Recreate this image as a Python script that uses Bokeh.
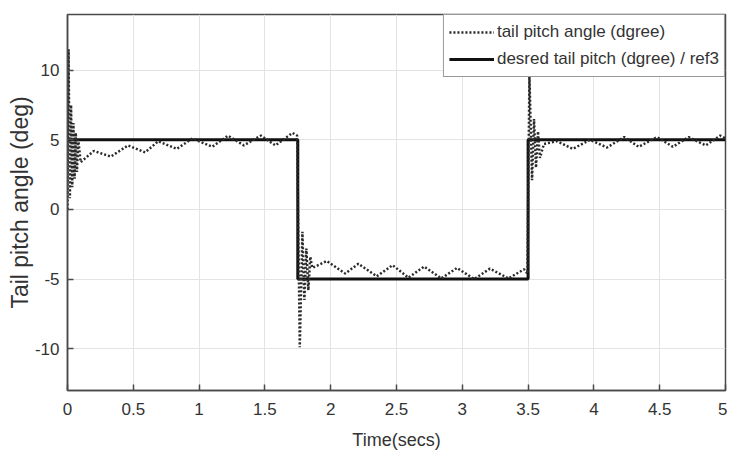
from bokeh.plotting import figure
from bokeh.models import Legend, LegendItem, FixedTicker, Range1d
from bokeh.embed import file_html
from bokeh.resources import INLINE

# --- data ---
ref_t = [0.0, 1.75, 1.75, 3.5, 3.5, 5.0]
ref_v = [5.0, 5.0, -5.0, -5.0, 5.0, 5.0]

meas_t = [0.0, 0.008, 0.018, 0.027, 0.036, 0.045, 0.054, 0.063, 0.072, 0.082, 0.1,
          0.2, 0.33, 0.46, 0.59, 0.69, 0.83, 0.95, 1.10, 1.22, 1.34, 1.47, 1.58, 1.71,
          1.745, 1.765, 1.785, 1.80, 1.815, 1.83, 1.845, 1.86, 1.97, 2.11, 2.21, 2.35,
          2.47, 2.59, 2.71, 2.84, 2.96, 3.09, 3.21, 3.35, 3.47, 3.495,
          3.51, 3.53, 3.545, 3.56, 3.575, 3.59, 3.62, 3.72, 3.84, 3.97, 4.10, 4.23,
          4.34, 4.48, 4.60, 4.72, 4.85, 4.96, 5.0]
meas_v = [0.0, 11.5, 0.8, 7.5, 1.6, 6.2, 2.2, 5.5, 2.7, 5.0, 3.4,
          4.2, 3.8, 4.6, 4.1, 4.9, 4.35, 5.1, 4.5, 5.3, 4.6, 5.3, 4.6, 5.5,
          5.3, -9.9, -1.6, -6.5, -2.8, -5.8, -3.4, -4.2, -3.7, -4.6, -3.9, -4.8,
          -4.0, -4.9, -4.1, -4.95, -4.2, -5.0, -4.25, -4.95, -4.3, -4.6,
          9.6, 2.1, 6.5, 3.0, 5.6, 3.7, 4.7, 4.9, 4.35, 5.0, 4.45, 5.2,
          4.5, 5.2, 4.5, 5.2, 4.6, 5.3, 5.1]

x_ticks = [0, 0.5, 1, 1.5, 2, 2.5, 3, 3.5, 4, 4.5, 5]
x_tick_labels = ["0", "0.5", "1", "1.5", "2", "2.5", "3", "3.5", "4", "4.5", "5"]
y_ticks = [-10, -5, 0, 5, 10]
y_tick_labels = ["-10", "-5", "0", "5", "10"]

meas_label = "tail pitch angle (dgree)"
ref_label = "desred tail pitch (dgree) / ref3"
x_title = "Time(secs)"
y_title = "Tail pitch angle (deg)"

FONT = "Liberation Sans"
TXT = "#333333"
AX = "#4a4a4a"

p = figure(width=727, height=452, output_backend="svg", toolbar_location=None,
           x_range=Range1d(0, 5), y_range=Range1d(-13, 14),
           min_border_left=67, min_border_right=2, min_border_top=14, min_border_bottom=60)
p.background_fill_color = "white"
p.border_fill_color = "white"
p.outline_line_color = AX
p.outline_line_width = 1.5

r_ref = p.line(ref_t, ref_v, line_color="#111111", line_width=3)
r_meas = p.line(meas_t, meas_v, line_color="#2a2a2a", line_width=2.5, line_dash="2 2")

xax = p.xaxis[0]
yax = p.yaxis[0]
for ax, ticks, labels in ((xax, x_ticks, x_tick_labels), (yax, y_ticks, y_tick_labels)):
    ax.ticker = FixedTicker(ticks=ticks)
    ax.major_label_overrides = {t: l for t, l in zip(ticks, labels)}
    ax.major_tick_in = 6
    ax.major_tick_out = 0
    ax.minor_tick_line_color = None
    ax.axis_line_color = AX
    ax.axis_line_width = 1.5
    ax.major_tick_line_color = AX
    ax.major_tick_line_width = 1.5
    ax.major_label_text_font = FONT
    ax.major_label_text_font_size = "17px"
    ax.major_label_text_color = TXT
    ax.axis_label_text_font = FONT
    ax.axis_label_text_color = TXT
    ax.axis_label_text_font_style = "normal"

xax.axis_label = x_title
xax.axis_label_text_font_size = "18px"
xax.major_label_standoff = 12
xax.axis_label_standoff = 12
yax.axis_label = y_title
yax.axis_label_text_font_size = "23px"
yax.major_label_standoff = 8
yax.axis_label_standoff = -1

p.xgrid.ticker = FixedTicker(ticks=x_ticks)
p.ygrid.ticker = FixedTicker(ticks=y_ticks)
p.xgrid.grid_line_color = "#e3e3e3"
p.ygrid.grid_line_color = "#e3e3e3"

legend = Legend(items=[LegendItem(label=meas_label, renderers=[r_meas]),
                       LegendItem(label=ref_label, renderers=[r_ref])],
                location="top_right", margin=0, padding=5, spacing=3,
                glyph_width=45, glyph_height=24, label_height=24, label_standoff=3,
                label_text_font=FONT, label_text_font_size="17px", label_text_color=TXT,
                border_line_color="#333333", border_line_width=1.5,
                background_fill_color="white", background_fill_alpha=1.0)
p.add_layout(legend)

open("out.html", "w").write(file_html(p, INLINE))
